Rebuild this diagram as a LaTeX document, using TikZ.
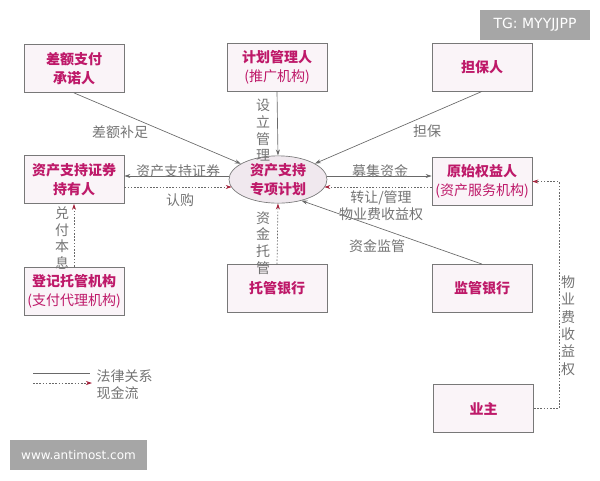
\documentclass[tikz,border=0pt]{standalone}
\usepackage{fontspec}
\newfontfamily\cjk{Noto Sans CJK SC}
\newfontfamily\wmfont{DejaVu Sans}
\usetikzlibrary{arrows.meta,calc,shapes.geometric}

\definecolor{boxfill}{RGB}{250,244,248}
\definecolor{planfill}{RGB}{240,232,238}
\definecolor{boxline}{RGB}{120,120,120}
\definecolor{pinktext}{RGB}{190,25,105}
\definecolor{lbltext}{RGB}{115,115,115}
\definecolor{lawline}{RGB}{105,105,105}
\definecolor{tipred}{RGB}{165,35,60}
\definecolor{wmgrey}{RGB}{166,166,166}

\tikzset{every picture/.style={line width=0.75pt}}
\tikzset{
  box/.style={draw=boxline, fill=boxfill, line width=0.6pt, minimum width=75pt, minimum height=36pt, inner sep=0pt, align=center, text=pinktext, font=\cjk\bfseries\fontsize{10.5}{14.5}\selectfont},
  plannode/.style={box, ellipse, fill=planfill, line width=0.5pt, minimum width=73.5pt, minimum height=35.5pt},
  lbl/.style={text=lbltext, inner sep=0pt, align=center, font=\cjk\fontsize{10.5}{12.5}\selectfont},
  law/.style={draw=lawline, line width=0.5pt, -{Stealth[length=4.5pt,width=3pt]}},
  cash/.style={draw=lawline, line width=0.5pt, dash pattern=on 1.2pt off 1.2pt, -{Stealth[length=4.5pt,width=3pt,color=tipred]}},
  mark box/.style={fill=wmgrey, text=white, inner sep=0pt, minimum height=22.5pt, font=\wmfont\fontsize{9}{11}\selectfont},
}

\begin{document}
\begin{tikzpicture}[x=0.75pt,y=0.75pt,yscale=-1,xscale=1]
	%set diagram left start at 0, and has height of 480
	\useasboundingbox (0,0) rectangle (600,480);

	%Shape: Rectangle [id:cha]
	\node[box] (cha) at (74,68.5) {差额支付\\承诺人};
	%Shape: Rectangle [id:jihua]
	\node[box] (jihua) at (277,67) {计划管理人\\{\mdseries(推广机构)}};
	%Shape: Rectangle [id:danbao]
	\node[box] (danbao) at (482,67) {担保人};
	%Shape: Rectangle [id:chiyou]
	\node[box] (chiyou) at (74,179.5) {资产支持证券\\持有人};
	%Shape: Ellipse [id:plan]
	\node[plannode] (plan) at (278,179.5) {资产支持\\专项计划};
	%Shape: Rectangle [id:yuanshi]
	\node[box] (yuanshi) at (482,181.5) {原始权益人\\{\mdseries(资产服务机构)}};
	%Shape: Rectangle [id:dengji]
	\node[box] (dengji) at (74,291) {登记托管机构\\{\mdseries(支付代理机构)}};
	%Shape: Rectangle [id:tuoguan]
	\node[box] (tuoguan) at (277,288.5) {托管银行};
	%Shape: Rectangle [id:jianguan]
	\node[box] (jianguan) at (482,288.5) {监管银行};
	%Shape: Rectangle [id:yezhu]
	\node[box] (yezhu) at (483.5,408.5) {业主};

	%Straight Lines [id:law lines]
	\draw[law] (cha.south) -- (plan);
	\draw[law] (jihua.south) -- (plan.north);
	\draw[law] (danbao.south) -- (plan);
	\draw[law] ($(plan.west)+(0,-3.5)$) -- ($(chiyou.east)+(0,-3.5)$);
	\draw[law] ($(plan.east)+(0,-3.5)$) -- ($(yuanshi.west)+(0,-5.5)$);
	\draw[law] (jianguan.north) -- (plan.-42);

	%Dotted Lines [id:cash lines]
	\draw[cash] ($(chiyou.east)+(0,7.5)$) -- ($(plan.west)+(3,7.5)$);
	\draw[cash] ($(yuanshi.west)+(0,5.5)$) -- ($(plan.east)+(-3,7.5)$);
	\draw[cash] (tuoguan.north) -- (plan.south);
	\draw[cash] (dengji.north) -- (chiyou.south);
	\draw[cash] (yezhu.east) -- ++(25,0) |- (yuanshi.east);

	% Text Node
	\node[lbl] (l-chae) at (120,132) {差额补足};
	\node[lbl] (l-sheli) at (263,130.5) {设\\立\\管\\理};
	\node[lbl] (l-danbao) at (427,131) {担保};
	\node[lbl] (l-abs) at (178,171) {资产支持证券};
	\node[lbl] (l-rengou) at (180,200) {认购};
	\node[lbl] (l-muji) at (380,171) {募集资金};
	\node[lbl, font=\cjk\fontsize{10.5}{12.5}\selectfont] (l-zhuanrang) at (381,205.5) {转让/管理\\物业费收益权};
	\node[lbl] (l-jianguan) at (377,246) {资金监管};
	\node[lbl] (l-tuoguan) at (263,243) {资\\金\\托\\管};
	\node[lbl] (l-duifu) at (62,238) {兑\\付\\本\\息};
	\node[lbl, font=\cjk\fontsize{10.5}{13}\selectfont] (l-wuye) at (568,325.5) {物\\业\\费\\收\\益\\权};

	%Legend
	\coordinate (lg-a) at (33,373);
	\coordinate (lg-b) at (90,373);
	\coordinate (lg-c) at (33,383);
	\coordinate (lg-d) at (92,383);
	\draw[draw=lawline, line width=0.5pt] (lg-a) -- (lg-b);
	\draw[cash] (lg-c) -- (lg-d);
	\node[lbl, anchor=west] (lg-law) at (96,376) {法律关系};
	\node[lbl, anchor=west] (lg-cash) at (96,393) {现金流};

	% Text Node
	\node[mark box, minimum width=82.5pt, font=\wmfont\fontsize{10.5}{12}\selectfont] (tg) at (535,25) {TG: MYYJJPP};
	\node[mark box, minimum width=102.75pt] (www) at (78.5,455) {www.antimost.com};

\end{tikzpicture}
\end{document}
